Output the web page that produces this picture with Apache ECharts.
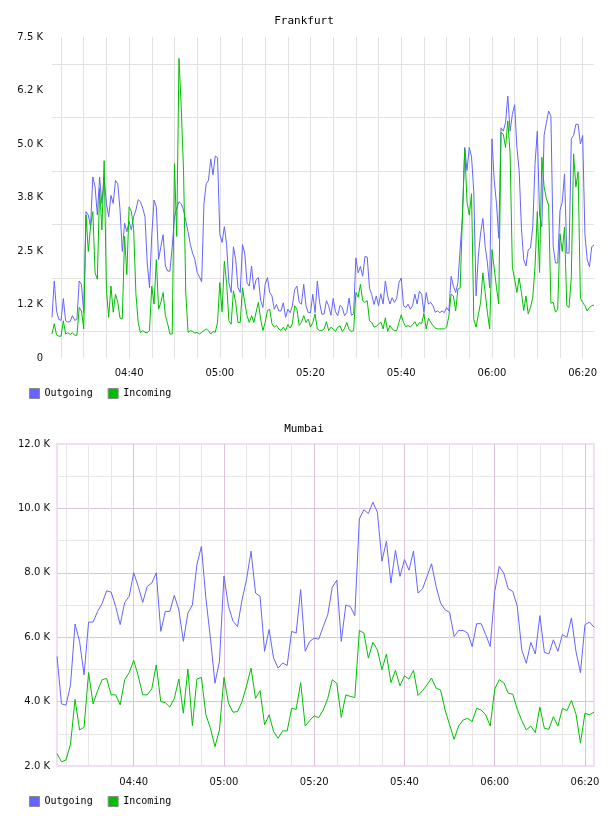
<!DOCTYPE html>
<html>
<head>
<meta charset="utf-8">
<script src="https://cdn.jsdelivr.net/npm/echarts@6/dist/echarts.min.js"></script>
<style>
  html, body { margin: 0; padding: 0; background: #fff; }
  .chart { width: 608px; height: 408px; }
</style>
</head>
<body>
<div id="frankfurt" class="chart"></div>
<div id="mumbai" class="chart"></div>
<script>
// Frankfurt: one sample every 30 s from 04:23:00
const frankfurtOut = [
  950, 1800, 1100, 900, 880, 1390, 870, 840, 850, 990,
  880, 900, 1800, 1720, 1060, 3420, 3340, 3070, 4230, 4000,
  3340, 4230, 3610, 4230, 3600, 3300, 3800, 3610, 4150, 4070,
  3460, 2490, 3150, 2950, 3190, 2990, 3300, 3460, 3700, 3650,
  3500, 3300, 2220, 1640, 2880, 3690, 3530, 2300, 2600, 2880,
  2150, 2030, 2030, 2600, 3300, 3500, 3650, 3600, 3460, 3200,
  2950, 2650, 2450, 2300, 2000, 1900, 1780, 3600, 4070, 4150,
  4650, 4280, 4720, 4680, 2900, 2700, 3070, 2650, 1760, 1530,
  2600, 2300, 1650, 1530, 2650, 2450, 1760, 1680, 2150, 1600,
  1830, 1880, 1350, 1180, 1720, 1880, 1530, 1450, 1140, 1250,
  1100, 1100, 1290, 950, 1140, 1060, 1220, 1600, 1680, 1300,
  1260, 1720, 1220, 1060, 1060, 1490, 1060, 1800, 1300, 1020,
  1030, 1340, 1220, 1000, 1390, 1080, 990, 1230, 1180, 990,
  1060, 1400, 1000, 1030, 2340, 1990, 2140, 1910, 2370, 2360,
  1630, 1480, 1250, 1450, 1220, 1500, 1260, 1800, 1450, 1260,
  1410, 1300, 1400, 1760, 1870, 1220, 1180, 1260, 1140, 1220,
  1490, 1260, 1560, 1490, 1060, 1530, 1260, 1300, 1220, 1070,
  1100, 1060, 1100, 1060, 1180, 1100, 1910, 1680, 1530, 1760,
  2570, 3300, 4920, 4380, 4920, 4700, 3880, 1450, 2380, 2920,
  3260, 2610, 2220, 1640, 5120, 4150, 3610, 2800, 5380, 5300,
  5500, 6120, 5300, 5690, 5920, 4920, 4380, 3030, 2300, 2150,
  2530, 2570, 3060, 4540, 5300, 3340, 3070, 5200, 5500, 5770,
  5650, 2610, 2220, 2220, 3450, 3640, 4300, 2450, 2450, 5120,
  5200, 5460, 5460, 5000, 5200, 2880, 2300, 2130, 2600, 2640
]
const frankfurtIn = [
  560, 800, 540, 510, 510, 870, 560, 590, 550, 590,
  530, 530, 1180, 1100, 680, 3340, 2490, 3070, 3420, 1990,
  1840, 3960, 2990, 4610, 1600, 950, 1680, 1070, 1490, 1300,
  930, 920, 2840, 1950, 3530, 3420, 3030, 1500, 830, 590,
  640, 600, 590, 640, 1680, 1260, 2300, 1140, 1300, 1530,
  990, 800, 560, 560, 4540, 2840, 7000, 5850, 4380, 1500,
  600, 640, 620, 580, 600, 560, 600, 640, 680, 640,
  560, 620, 600, 840, 1760, 1080, 2260, 1760, 870, 790,
  1570, 1300, 830, 830, 1640, 1300, 990, 830, 990, 830,
  1070, 1300, 910, 640, 830, 1110, 1140, 800, 720, 760,
  680, 640, 720, 640, 780, 700, 800, 1220, 1140, 760,
  830, 990, 830, 910, 720, 830, 1030, 680, 640, 640,
  680, 850, 640, 720, 680, 620, 720, 750, 620, 690,
  830, 660, 620, 640, 1530, 1420, 1720, 1340, 1300, 1340,
  870, 830, 720, 740, 790, 840, 680, 940, 620, 760,
  680, 640, 640, 830, 1010, 830, 730, 760, 720, 780,
  850, 740, 830, 800, 1040, 680, 930, 830, 760, 700,
  680, 680, 680, 680, 720, 980, 1490, 1450, 1100, 1610,
  1640, 3340, 4880, 3650, 3340, 3840, 900, 720, 1010, 1300,
  1990, 1530, 1060, 680, 2530, 2100, 1640, 1260, 5270, 5230,
  4920, 5540, 4780, 2120, 1840, 1530, 1870, 1530, 1110, 1450,
  1030, 1180, 1420, 2140, 3420, 2000, 4690, 4000, 3720, 3570,
  1280, 1300, 1070, 1140, 2900, 2490, 3060, 1220, 1180, 1900,
  4770, 4000, 4350, 1400, 1300, 1220, 1100, 1180, 1220, 1240
]
const frankfurtTicks = ['0', '1.2 K', '2.5 K', '3.8 K', '5.0 K', '6.2 K', '7.5 K']

// Mumbai: one sample per minute from 04:23
const mumbaiOut = [
  5400, 3930, 3890, 4520, 6410, 5870, 4830, 6470, 6470, 6800,
  7050, 7440, 7400, 6950, 6390, 7080, 7270, 8000, 7580, 7080,
  7580, 7680, 8000, 6180, 6800, 6800, 7300, 6850, 5870, 6750,
  7000, 8250, 8820, 7200, 5970, 4570, 5250, 7900, 6960, 6500,
  6330, 7160, 7790, 8670, 7370, 7270, 5560, 6240, 5350, 5040,
  5200, 5120, 6180, 6130, 7480, 5560, 5870, 5970, 5940, 6330,
  6700, 7550, 7770, 5870, 7000, 6950, 6670, 9670, 9960, 9840,
  10190, 9880, 8360, 8980, 7680, 8700, 7890, 8410, 8080, 8670,
  7370, 7500, 7890, 8280, 7580, 7060, 6850, 6770, 6020, 6210,
  6210, 6130, 5710, 6420, 6420, 6080, 5710, 7420, 8200, 7990,
  7500, 7420, 6960, 5600, 5190, 5840, 5480, 6670, 5530, 5480,
  5920, 5560, 6080, 6000, 6600, 5560, 4900, 6390, 6470, 6310
]
const mumbaiIn = [
  2390, 2130, 2190, 2680, 4070, 3120, 3200, 4900, 3930, 4340,
  4680, 4720, 4210, 4210, 3900, 4680, 4900, 5280, 4800, 4210,
  4210, 4390, 5140, 4000, 3970, 3830, 4100, 4700, 3640, 5010,
  3250, 4700, 4750, 3590, 3170, 2600, 3120, 4750, 3950, 3670,
  3690, 4000, 4490, 5040, 4100, 4340, 3280, 3590, 3070, 2860,
  3090, 3090, 3790, 3760, 4590, 3240, 3410, 3560, 3500, 3740,
  4100, 4680, 4570, 3510, 4210, 4160, 4130, 6210, 6130, 5350,
  5840, 5610, 4990, 5480, 4590, 4970, 4490, 4800, 4700, 4970,
  4190, 4340, 4520, 4730, 4420, 4360, 3740, 3280, 2830, 3240,
  3430, 3480, 3380, 3790, 3740, 3590, 3240, 4390, 4680, 4590,
  4260, 4230, 3760, 3410, 3120, 3240, 3040, 3830, 3170, 3140,
  3530, 3240, 3790, 3720, 4030, 3620, 2710, 3640, 3590, 3670
]
const mumbaiTicks = ['2.0 K', '4.0 K', '6.0 K', '8.0 K', '10.0 K', '12.0 K']

const OUT_COLOR = '#6464ff'
const IN_COLOR = '#00bf00'

function pad(n) {
  return (n < 10 ? '0' : '') + n
}

// category labels HH:MM:SS, starting at startMin (minutes after midnight)
function buildTimes(startMin, stepSec, count) {
  const times = []
  for (let i = 0; i < count; i++) {
    const s = startMin * 60 + i * stepSec
    times.push(pad(Math.floor(s / 3600)) + ':' + pad(Math.floor(s / 60) % 60) + ':' + pad(s % 60))
  }
  return times
}

function onMark(value, every) {
  const m = +value.slice(3, 5)
  const s = +value.slice(6, 8)
  return s === 0 && m % every === 0
}

const frankfurtTimes = buildTimes(4 * 60 + 23, 30, frankfurtOut.length)
const mumbaiTimes = buildTimes(4 * 60 + 23, 60, mumbaiOut.length)

const labelFont = { fontFamily: 'DejaVu Sans', fontSize: 10, color: '#111' }
const monoFont = { fontFamily: 'DejaVu Sans Mono', color: '#000' }

function baseOption(title) {
  return {
    animation: false,
    title: {
      text: title,
      left: 'center',
      top: 11,
      textStyle: Object.assign({ fontSize: 11, fontWeight: 'normal' }, monoFont)
    },
    legend: {
      data: ['Outgoing', 'Incoming'],
      left: 24,
      top: 383,
      icon: 'rect',
      itemWidth: 10,
      itemHeight: 10,
      itemGap: 15,
      itemStyle: { borderColor: '#8a8a8a', borderWidth: 1 },
      textStyle: Object.assign({ fontSize: 10 }, monoFont)
    },
    series: []
  }
}

function lineSeries(name, data, color) {
  return {
    name: name,
    type: 'line',
    data: data,
    symbol: 'none',
    color: color,
    lineStyle: { width: 1, color: color }
  }
}

// top chart
const frankfurt = echarts.init(document.getElementById('frankfurt'))
const optF = baseOption('Frankfurt')
optF.grid = { left: 52, right: 14, top: 37, bottom: 50 }
optF.xAxis = {
  type: 'category',
  data: frankfurtTimes,
  boundaryGap: false,
  axisLine: { show: false },
  axisTick: { show: false },
  axisLabel: Object.assign({
    interval: (i, v) => onMark(v, 20),
    formatter: (v) => v.slice(0, 5),
    margin: 10
  }, labelFont),
  splitLine: {
    show: true,
    interval: (i, v) => onMark(v, 5),
    lineStyle: { color: '#e2e2e2', width: 1 }
  }
}
optF.yAxis = {
  type: 'value',
  min: 0,
  max: 7500,
  interval: 1250,
  axisLine: { show: false },
  axisTick: { show: false },
  axisLabel: Object.assign({
    formatter: (v) => frankfurtTicks[Math.round(v / 1250)],
    margin: 9
  }, labelFont),
  splitLine: { show: false },
  minorTick: { show: false, splitNumber: 2 },
  minorSplitLine: { show: true, lineStyle: { color: '#e2e2e2', width: 1 } }
}
optF.series = [
  lineSeries('Outgoing', frankfurtOut, OUT_COLOR),
  lineSeries('Incoming', frankfurtIn, IN_COLOR)
]
frankfurt.setOption(optF)

// bottom chart
const mumbai = echarts.init(document.getElementById('mumbai'))
const optM = baseOption('Mumbai')
optM.grid = {
  left: 57, right: 14, top: 36, bottom: 50,
  show: true, borderColor: '#efe0ef', borderWidth: 2, backgroundColor: 'transparent'
}
optM.xAxis = [{
  type: 'category',
  data: mumbaiTimes,
  boundaryGap: false,
  axisLine: { show: false },
  axisTick: { show: false },
  axisLabel: Object.assign({
    interval: (i, v) => onMark(v, 20),
    formatter: (v) => v.slice(0, 5),
    margin: 11
  }, labelFont),
  splitLine: {
    show: true,
    interval: (i, v) => onMark(v, 5) && !onMark(v, 20),
    lineStyle: { color: '#e6e6e6', width: 1 }
  }
}, {
  type: 'category',
  data: mumbaiTimes,
  boundaryGap: false,
  position: 'bottom',
  axisLine: { show: false },
  axisTick: { show: false },
  axisLabel: { show: false },
  splitLine: {
    show: true,
    interval: (i, v) => onMark(v, 20),
    lineStyle: { color: '#dcc3dc', width: 1 }
  }
}]
optM.yAxis = {
  type: 'value',
  min: 2000,
  max: 12000,
  interval: 2000,
  axisLine: { show: false },
  axisTick: { show: false },
  axisLabel: Object.assign({
    formatter: (v) => mumbaiTicks[Math.round((v - 2000) / 2000)],
    margin: 7
  }, labelFont),
  splitLine: { show: true, showMinLine: false, showMaxLine: false, lineStyle: { color: '#dcc3dc', width: 1 } },
  minorTick: { show: false, splitNumber: 2 },
  minorSplitLine: { show: true, lineStyle: { color: '#e6e6e6', width: 1 } }
}
optM.series = [
  lineSeries('Outgoing', mumbaiOut, OUT_COLOR),
  lineSeries('Incoming', mumbaiIn, IN_COLOR)
]
mumbai.setOption(optM)
</script>
</body>
</html>
